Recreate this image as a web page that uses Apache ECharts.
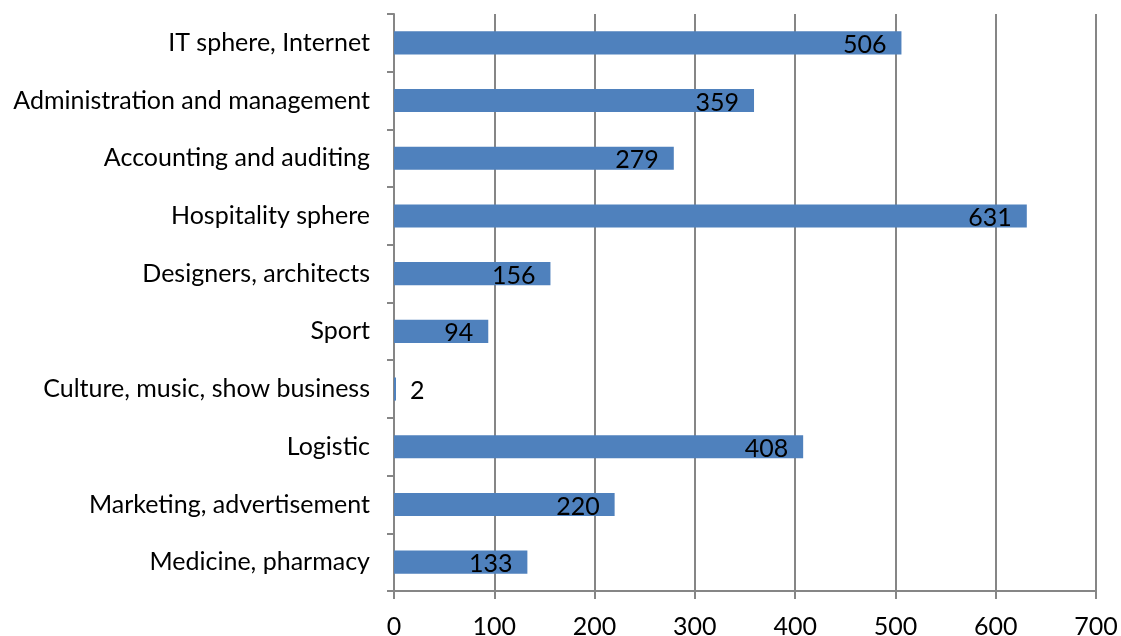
<!DOCTYPE html>
<html>
<head>
<meta charset="utf-8">
<script src="https://cdn.jsdelivr.net/npm/echarts@6/dist/echarts.min.js"></script>
<style>
  html, body { margin: 0; padding: 0; background: #fff; }
  #e1 { width: 1121px; height: 636px; }
</style>
</head>
<body>
<div id="e1"></div>
<script>
var categories = ['IT sphere, Internet', 'Administration and management', 'Accounting and auditing',
    'Hospitality sphere', 'Designers, architects', 'Sport', 'Culture, music, show business',
    'Logistic', 'Marketing, advertisement', 'Medicine, pharmacy'];
var values = [506, 359, 279, 631, 156, 94, 2, 408, 220, 133];
var xTicks = [0, 100, 200, 300, 400, 500, 600, 700];

var e1 = echarts.init(document.getElementById('e1'));
var axisGray = '#868686';
var font = 'Lato';
var fontSize = 25;

//小于 20 的值标签放在柱外
var barData = values.map(function (v) {
    var it = { value: v };
    if (v < 20) {
        it.label = { position: 'right', distance: 14 };
    }
    return it;
});

var option1 = {
    animation: false,
    grid: {
        left: 394,
        right: 25,
        top: 14,
        bottom: 45,
        containLabel: false,
        outerBoundsMode: 'none'
    },
    xAxis: {
        type: 'value',
        min: xTicks[0],
        max: xTicks[xTicks.length - 1],
        interval: 100,
        axisLine: { show: true, lineStyle: { color: axisGray, width: 2 } },
        axisTick: { show: true, length: 8, lineStyle: { color: axisGray, width: 2 } },
        splitLine: { show: true, lineStyle: { color: axisGray, width: 2 } },
        axisLabel: { color: '#000', fontSize: fontSize, fontFamily: font, margin: 23 }
    },
    yAxis: {
        type: 'category',
        inverse: true,
        data: categories,
        axisLine: { show: true, lineStyle: { color: axisGray, width: 2 } },
        axisTick: { show: true, length: 7, lineStyle: { color: axisGray, width: 2 } },
        axisLabel: { color: '#000', fontSize: fontSize, fontFamily: font, margin: 24 }
    },
    series: [{
        type: 'bar',
        data: barData,
        barWidth: '40%',
        itemStyle: { color: '#4F81BD' },
        label: {
            show: true,
            position: 'insideRight',
            distance: 15,
            offset: [0, 2],
            color: '#000',
            fontSize: fontSize,
            fontFamily: font
        }
    }]
};
e1.setOption(option1);
</script>
</body>
</html>
